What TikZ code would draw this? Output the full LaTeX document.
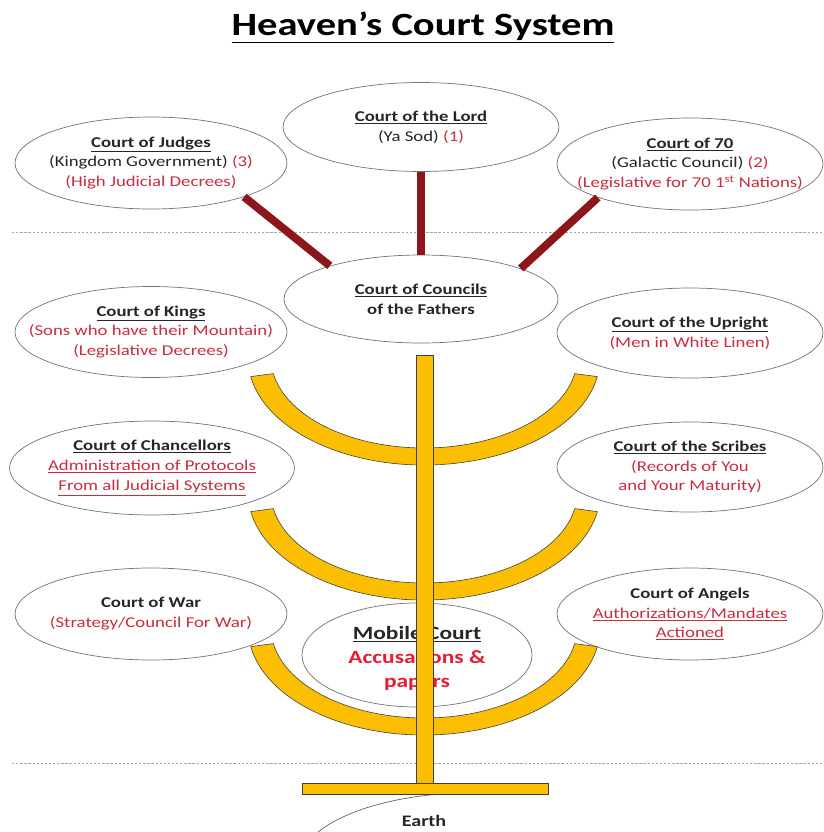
\documentclass[tikz,border=0pt]{standalone}
\usepackage{fontspec}
\setmainfont{Carlito}[FakeStretch=1.25]
\usetikzlibrary{shapes.geometric}
\definecolor{courtred}{RGB}{200,45,65}
\definecolor{mobilered}{RGB}{228,28,52}
\definecolor{courtmaroon}{RGB}{140,22,28}
\definecolor{lampgold}{RGB}{252,190,0}
\newcommand{\px}{0.03cm}
\newcommand{\ctitle}[1]{\textbf{\underline{#1}}}
\newcommand{\rd}[1]{\textcolor{courtred}{#1}}

\begin{document}
\begin{tikzpicture}[x=\px, y=-\px, % pixel grid, y downwards
		court/.style 2 args={ellipse, draw=black!55, line width=0.6pt, fill=white, inner sep=0pt, minimum width=#1*\px, minimum height=#2*\px},
		courttext/.style={align=center, inner sep=0pt, text=black!85, font=\fontsize{12.8}{17}\selectfont},
		tie/.style={draw=courtmaroon, line width=6.8pt},
		divider/.style={gray!70, line width=0.5pt, dash pattern=on 2pt off 1.5pt},
		gold/.style={fill=lampgold, draw=black!75, line width=0.5pt}]
	\useasboundingbox (0,0) rectangle (824,832);
	\node[anchor=base, inner sep=0pt, font=\fontsize{27.7}{30}\selectfont\bfseries] (title) at (423,35) {\underline{Heaven’s Court System}};
	\draw[divider] (12,232) -- (822,232);
	\draw[divider] (12,763) -- (822,763);
	% upper courts
	\node[court={276}{89}] (lord) at (421,127) {};
	\node[courttext] (lordtext) at (lord) {\ctitle{Court of the Lord}\\(Ya Sod) \rd{(1)}};
	\node[court={272}{92}] (judges) at (151,163) {};
	\node[courttext] (judgestext) at (judges) {\ctitle{Court of Judges}\\(Kingdom Government) \rd{(3)}\\\rd{(High Judicial Decrees)}};
	\node[court={266}{92}] (seventy) at (690,164) {};
	\node[courttext] (seventytext) at (seventy) {\ctitle{Court of 70}\\(Galactic Council) \rd{(2)}\\\rd{(Legislative for 70 1\textsuperscript{st} Nations)}};
	\node[court={274}{88}] (councils) at (421,299) {};
	\node[courttext] (councilstext) at (councils) {\ctitle{Court of Councils}\\\textbf{of the Fathers}};
	% side courts
	\node[court={272}{91}] (kings) at (151,332) {};
	\node[courttext] (kingstext) at (kings) {\ctitle{Court of Kings}\\\rd{(Sons who have their Mountain)}\\\rd{(Legislative Decrees)}};
	\node[court={266}{90}] (upright) at (690,333) {};
	\node[courttext] (uprighttext) at (upright) {\ctitle{Court of the Upright}\\\rd{(Men in White Linen)}};
	\node[court={285}{94}] (chancellors) at (152,468) {};
	\node[courttext] (chancellorstext) at (chancellors) {\ctitle{Court of Chancellors}\\\rd{\underline{Administration of Protocols}}\\\rd{\underline{From all Judicial Systems}}};
	\node[court={266}{90}] (scribes) at (690,467) {};
	\node[courttext] (scribestext) at (scribes) {\ctitle{Court of the Scribes}\\\rd{(Records of You}\\\rd{and Your Maturity)}};
	\node[court={272}{92}] (war) at (151,614) {};
	\node[courttext] (wartext) at (war) {\textbf{Court of War}\\\rd{(Strategy/Council For War)}};
	\node[court={266}{92}] (angels) at (690,614) {};
	\node[courttext] (angelstext) at (angels) {\textbf{Court of Angels}\\\rd{\underline{Authorizations/Mandates}}\\\rd{\underline{Actioned}}};
	\node[court={230}{104}] (mobile) at (417,655) {};
	\node[courttext, font=\fontsize{16}{20.5}\selectfont\bfseries] (mobiletext) at (417,658) {\underline{Mobile Court}\\\textcolor{mobilered}{Accusations \&}\\\textcolor{mobilered}{papers}};
	\node[courttext, font=\fontsize{13.7}{16}\selectfont\bfseries] (earth) at (424,821) {Earth};
	\draw[tie] (judges.-20) -- (councils.160);
	\draw[tie] (lord.south) -- (councils.north);
	\draw[tie] (seventy.200) -- (councils.17);
	% lampstand
	\foreach \cy in {358,493,628}
		\draw[gold] (250.7,\cy+18.6) arc[start angle=170, end angle=10, x radius=176, y radius=107] -- (574.7,\cy+15.6) arc[start angle=10, end angle=170, x radius=153, y radius=90] -- cycle;
	\filldraw[gold] (416,355) rectangle (433,783);
	\draw[black!60, line width=0.6pt] (earth.center) ++(-106,11) arc[start angle=208.7, end angle=280, x radius=173, y radius=75];
	\filldraw[gold] (302,783) rectangle (548,794);
\end{tikzpicture}
\end{document}
